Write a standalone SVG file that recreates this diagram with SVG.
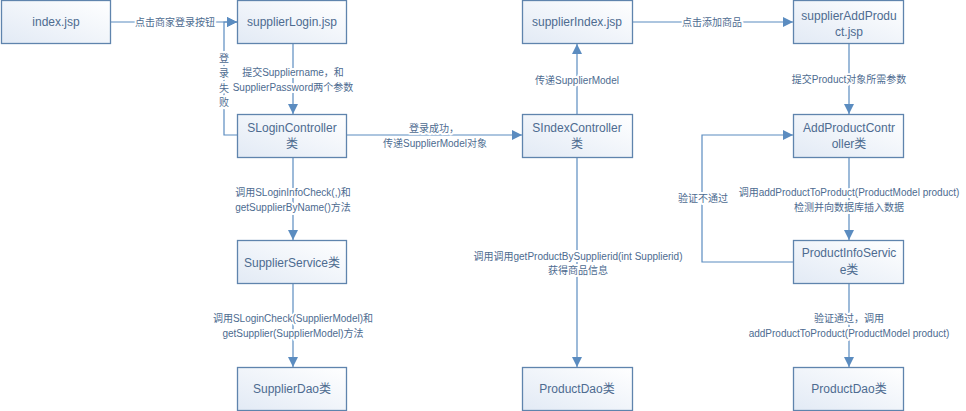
<svg xmlns="http://www.w3.org/2000/svg" width="966" height="411" viewBox="0 0 966 411">
<defs>
<linearGradient id="g" x1="1" y1="0" x2="0" y2="1">
<stop offset="0" stop-color="#ffffff"/>
<stop offset="1" stop-color="#e2eaf5"/>
</linearGradient>
<marker id="arr" viewBox="0 0 10 10" refX="10" refY="5" markerWidth="10" markerHeight="10" markerUnits="userSpaceOnUse" orient="auto">
<path d="M0,0 L10,5 L0,10 Z" fill="#5b8cc0"/>
</marker>
<style>
.box{fill:url(#g);stroke:#5f84ad;stroke-width:1.3}
.bt{font-family:"Liberation Sans","Noto Sans CJK SC",sans-serif;font-size:12px;fill:#4d6b90;text-anchor:middle}
.ln{fill:none;stroke:#5b8cc0;stroke-width:1.2}
.lb{font-family:"Liberation Sans","Noto Sans CJK SC",sans-serif;font-size:10px;fill:#4d6b90;text-anchor:middle;stroke:#fff;stroke-width:4;paint-order:stroke;stroke-linejoin:round}
</style>
</defs>
<rect width="966" height="411" fill="#fff"/>
<g id="connectors">
<path class="ln" d="M111,22 H237" marker-end="url(#arr)"/>
<path class="ln" d="M237,135 H224 V22 H237" marker-end="url(#arr)"/>
<path class="ln" d="M293,44 V114" marker-end="url(#arr)"/>
<path class="ln" d="M347,135 H522" marker-end="url(#arr)"/>
<path class="ln" d="M577,114 V44" marker-end="url(#arr)"/>
<path class="ln" d="M633,22 H793" marker-end="url(#arr)"/>
<path class="ln" d="M293,157 V240" marker-end="url(#arr)"/>
<path class="ln" d="M293,283 V367" marker-end="url(#arr)"/>
<path class="ln" d="M577,157 V367" marker-end="url(#arr)"/>
<path class="ln" d="M849,44 V114" marker-end="url(#arr)"/>
<path class="ln" d="M849,157 V240" marker-end="url(#arr)"/>
<path class="ln" d="M793,262 H702 V135 H793" marker-end="url(#arr)"/>
<path class="ln" d="M849,284 V367" marker-end="url(#arr)"/>
<text class="lb" x="175" y="25.5">点击商家登录按钮</text>
<text class="lb" x="224" y="61.5">登</text>
<text class="lb" x="224" y="76.5">录</text>
<text class="lb" x="224" y="91.5">失</text>
<text class="lb" x="224" y="105.5">败</text>
<text class="lb" x="293" y="75.5">提交Suppliername，和</text>
<text class="lb" x="293" y="90.5">SupplierPassword两个参数</text>
<text class="lb" x="434" y="131.5">登录成功，</text>
<text class="lb" x="435" y="146.5">传递SupplierModel对象</text>
<text class="lb" x="577" y="83.5">传递SupplierModel</text>
<text class="lb" x="712" y="25.5">点击添加商品</text>
<text class="lb" x="293" y="195.5">调用SLoginInfoCheck(,)和</text>
<text class="lb" x="293" y="210.5">getSupplierByName()方法</text>
<text class="lb" x="293" y="321.5">调用SLoginCheck(SupplierModel)和</text>
<text class="lb" x="293" y="336.5">getSupplier(SupplierModel)方法</text>
<text class="lb" x="578" y="259.5">调用调用getProductBySupplierid(int Supplierid)</text>
<text class="lb" x="578" y="273.5">获得商品信息</text>
<text class="lb" x="849" y="82.5">提交Product对象所需参数</text>
<text class="lb" x="849" y="195.5">调用addProductToProduct(ProductModel product)</text>
<text class="lb" x="849" y="210.5">检测并向数据库插入数据</text>
<text class="lb" x="703" y="201.5">验证不通过</text>
<text class="lb" x="849" y="321.5">验证通过，调用</text>
<text class="lb" x="849" y="336.5">addProductToProduct(ProductModel product)</text>
</g>
<g id="index"><rect class="box" x="1.5" y="0.5" width="109" height="43"/><text class="bt" x="56" y="26">index.jsp</text></g>
<g id="supplierLogin"><rect class="box" x="237.5" y="0.5" width="109" height="43"/><text class="bt" x="292" y="26">supplierLogin.jsp</text></g>
<g id="SLoginController"><rect class="box" x="237.5" y="114.5" width="109" height="43"/><text class="bt" x="292" y="132">SLoginController</text><text class="bt" x="292" y="148">类</text></g>
<g id="SupplierService"><rect class="box" x="237.5" y="240.5" width="109" height="43"/><text class="bt" x="292" y="267">SupplierService类</text></g>
<g id="SupplierDao"><rect class="box" x="237.5" y="367.5" width="109" height="43"/><text class="bt" x="292" y="393">SupplierDao类</text></g>
<g id="supplierIndex"><rect class="box" x="522.5" y="0.5" width="110" height="43"/><text class="bt" x="577" y="26">supplierIndex.jsp</text></g>
<g id="SIndexController"><rect class="box" x="522.5" y="114.5" width="110" height="43"/><text class="bt" x="577" y="132">SIndexController</text><text class="bt" x="577" y="148">类</text></g>
<g id="ProductDao1"><rect class="box" x="522.5" y="367.5" width="110" height="43"/><text class="bt" x="577" y="393">ProductDao类</text></g>
<g id="supplierAddProduct"><rect class="box" x="793.5" y="0.5" width="110" height="43"/><text class="bt" x="849" y="20">supplierAddProdu</text><text class="bt" x="849" y="36">ct.jsp</text></g>
<g id="AddProductController"><rect class="box" x="793.5" y="114.5" width="110" height="43"/><text class="bt" x="849" y="132">AddProductContr</text><text class="bt" x="849" y="148">oller类</text></g>
<g id="ProductInfoService"><rect class="box" x="793.5" y="240.5" width="110" height="43"/><text class="bt" x="849" y="257">ProductInfoServic</text><text class="bt" x="849" y="274">e类</text></g>
<g id="ProductDao2"><rect class="box" x="793.5" y="367.5" width="110" height="43"/><text class="bt" x="849" y="393">ProductDao类</text></g>
</svg>
